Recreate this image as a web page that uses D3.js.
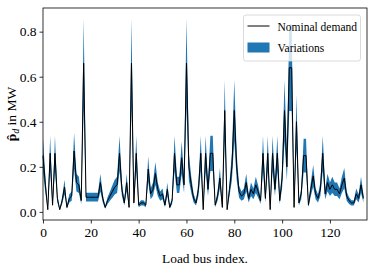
<!DOCTYPE html>
<html>
<head>
<meta charset="utf-8">
<script src="https://cdn.jsdelivr.net/npm/d3@7"></script>
<style>
  body { margin: 0; background: #fff; }
  text { font-family: "Liberation Serif", "DejaVu Serif", serif; fill: #000; }
</style>
</head>
<body>
<div id="chart"></div>
<script>

// nominal demand per load bus (MW)
var nominal = [
  0.25, 0.12, 0.01, 0.26, 0.03, 0.26, 0.06, 0.01, 0.05, 0.11,
  0.02, 0.06, 0.07, 0.27, 0.13, 0.12, 0.05, 0.66, 0.065, 0.065,
  0.065, 0.065, 0.065, 0.065, 0.13, 0.06, 0.02, 0.05, 0.07, 0.09,
  0.11, 0.12, 0.26, 0.10, 0.04, 0.13, 0.02, 0.66, 0.04, 0.26,
  0.03, 0.04, 0.04, 0.03, 0.19, 0.08, 0.10, 0.17, 0.10, 0.07,
  0.08, 0.03, 0.10, 0.02, 0.05, 0.26, 0.12, 0.12, 0.24, 0.12,
  0.66, 0.20, 0.12, 0.06, 0.04, 0.10, 0.26, 0.01, 0.26, 0.10,
  0.26, 0.26, 0.03, 0.07, 0.15, 0.02, 0.45, 0.01, 0.10, 0.20,
  0.45, 0.20, 0.09, 0.07, 0.08, 0.13, 0.06, 0.10, 0.08, 0.12,
  0.09, 0.05, 0.26, 0.06, 0.26, 0.01, 0.26, 0.10, 0.26, 0.05,
  0.15, 0.45, 0.20, 0.64, 0.64, 0.02, 0.40, 0.04, 0.08, 0.25,
  0.25, 0.03, 0.10, 0.16, 0.08, 0.06, 0.10, 0.26, 0.08, 0.13,
  0.10, 0.12, 0.10, 0.10, 0.08, 0.12, 0.15, 0.07, 0.05, 0.04,
  0.04, 0.08, 0.06, 0.12, 0.06
];

// lower edge of the variation band
var lower = [
  0.175, 0.084, 0.007, 0.182, 0.021, 0.182, 0.042, 0.007, 0.035, 0.077,
  0.014, 0.042, 0.049, 0.189, 0.091, 0.084, 0.035, 0.462, 0.046, 0.046,
  0.046, 0.046, 0.046, 0.046, 0.091, 0.042, 0.014, 0.035, 0.049, 0.063,
  0.077, 0.084, 0.182, 0.070, 0.028, 0.091, 0.014, 0.462, 0.028, 0.182,
  0.021, 0.028, 0.028, 0.021, 0.133, 0.056, 0.070, 0.119, 0.070, 0.049,
  0.056, 0.021, 0.070, 0.014, 0.035, 0.182, 0.084, 0.084, 0.168, 0.084,
  0.462, 0.140, 0.084, 0.042, 0.028, 0.070, 0.182, 0.007, 0.182, 0.070,
  0.182, 0.182, 0.021, 0.049, 0.105, 0.014, 0.315, 0.007, 0.070, 0.140,
  0.315, 0.140, 0.063, 0.049, 0.056, 0.091, 0.042, 0.070, 0.056, 0.084,
  0.063, 0.035, 0.182, 0.042, 0.182, 0.007, 0.182, 0.070, 0.182, 0.035,
  0.105, 0.315, 0.140, 0.448, 0.448, 0.014, 0.280, 0.028, 0.056, 0.175,
  0.175, 0.021, 0.070, 0.112, 0.056, 0.042, 0.070, 0.182, 0.056, 0.091,
  0.070, 0.084, 0.070, 0.070, 0.056, 0.084, 0.105, 0.049, 0.035, 0.028,
  0.028, 0.056, 0.042, 0.084, 0.042
];

// upper edge of the variation band
var upper = [
  0.325, 0.156, 0.013, 0.338, 0.039, 0.338, 0.078, 0.013, 0.065, 0.143,
  0.026, 0.078, 0.091, 0.351, 0.169, 0.156, 0.065, 0.858, 0.085, 0.085,
  0.085, 0.085, 0.085, 0.085, 0.169, 0.078, 0.026, 0.065, 0.091, 0.117,
  0.143, 0.156, 0.338, 0.130, 0.052, 0.169, 0.026, 0.858, 0.052, 0.338,
  0.039, 0.052, 0.052, 0.039, 0.247, 0.104, 0.130, 0.221, 0.130, 0.091,
  0.104, 0.039, 0.130, 0.026, 0.065, 0.338, 0.156, 0.156, 0.312, 0.156,
  0.858, 0.260, 0.156, 0.078, 0.052, 0.130, 0.338, 0.013, 0.338, 0.130,
  0.338, 0.338, 0.039, 0.091, 0.195, 0.026, 0.585, 0.013, 0.130, 0.260,
  0.585, 0.260, 0.117, 0.091, 0.104, 0.169, 0.078, 0.130, 0.104, 0.156,
  0.117, 0.065, 0.338, 0.078, 0.338, 0.013, 0.338, 0.130, 0.338, 0.065,
  0.195, 0.585, 0.260, 0.832, 0.832, 0.026, 0.520, 0.052, 0.104, 0.325,
  0.325, 0.039, 0.130, 0.208, 0.104, 0.078, 0.130, 0.338, 0.104, 0.169,
  0.130, 0.156, 0.130, 0.130, 0.104, 0.156, 0.195, 0.091, 0.065, 0.052,
  0.052, 0.104, 0.078, 0.156, 0.078
];

var xTicks = [0, 20, 40, 60, 80, 100, 120];
var yTicks = [0.0, 0.2, 0.4, 0.6, 0.8];
var legendLabels = ['Nominal demand', 'Variations'];

var W = 373, H = 273;
var margin = { top: 8, right: 6, bottom: 53, left: 43 }
  , width = W - margin.left - margin.right
  , height = H - margin.top - margin.bottom;

var svg = d3.select('#chart').append('svg')
  .attr('width', W)
  .attr('height', H);

var g = svg.append('g')
  .attr('transform', `translate(${margin.left},${margin.top})`);

var x = d3.scaleLinear().domain([0, 135.5]).range([0, width]);
var y = d3.scaleLinear().domain([-0.036, 0.905]).range([height, 0]);

// band
var area = d3.area()
  .x((d, i) => x(i))
  .y0((d, i) => y(lower[i]))
  .y1((d, i) => y(upper[i]));

g.append('path')
  .datum(nominal)
  .attr('fill', '#1f77b4')
  .attr('d', area);

// nominal line
var line = d3.line()
  .x((d, i) => x(i))
  .y(d => y(d));

g.append('path')
  .datum(nominal)
  .attr('fill', 'none')
  .attr('stroke', '#000')
  .attr('stroke-width', 1)
  .attr('stroke-linejoin', 'round')
  .attr('d', line);

// axes
var xAxis = g.append('g')
  .attr('transform', `translate(0,${height})`)
  .call(d3.axisBottom(x).tickValues(xTicks).tickSize(3.5).tickPadding(4).tickFormat(d3.format('d')));

var yAxis = g.append('g')
  .call(d3.axisLeft(y).tickValues(yTicks).tickSize(3.5).tickPadding(3).tickFormat(d3.format('.1f')));

[xAxis, yAxis].forEach(a => {
  a.select('.domain').remove();
  a.selectAll('line').attr('stroke', '#000').attr('stroke-width', 0.8);
  a.selectAll('text').style('font-size', '13.5px').attr('fill', '#000');
});

// frame
g.append('rect')
  .attr('width', width)
  .attr('height', height)
  .attr('fill', 'none')
  .attr('stroke', '#000')
  .attr('stroke-width', 0.8);

// axis labels
svg.append('text')
  .attr('x', margin.left + width / 2)
  .attr('y', 263)
  .attr('text-anchor', 'middle')
  .style('font-size', '13.4px')
  .text('Load bus index.');

var ylab = svg.append('text')
  .attr('transform', `translate(16,${margin.top + height / 2}) rotate(-90)`)
  .attr('text-anchor', 'middle')
  .style('font-size', '13.5px');
ylab.append('tspan').attr('font-weight', 'bold').text('p\u0302');
ylab.append('tspan').attr('font-style', 'italic').attr('font-size', '9.5px').attr('dy', 2.5).text('d');
ylab.append('tspan').attr('dy', -2.5).text(' in MW');

// legend
var legend = svg.append('g')
  .attr('transform', 'translate(243.5,15)');

legend.append('rect')
  .attr('width', 117)
  .attr('height', 46)
  .attr('rx', 2.5)
  .attr('fill', '#fff')
  .attr('fill-opacity', 0.8)
  .attr('stroke', '#d0d0d0')
  .attr('stroke-width', 0.8);

legend.append('line')
  .attr('x1', 4).attr('x2', 26)
  .attr('y1', 11).attr('y2', 11)
  .attr('stroke', '#000')
  .attr('stroke-width', 1);

legend.append('rect')
  .attr('x', 4).attr('y', 27.5)
  .attr('width', 22).attr('height', 10)
  .attr('fill', '#1f77b4');

legend.selectAll('text.lbl')
  .data(legendLabels)
  .enter()
  .append('text')
  .attr('class', 'lbl')
  .attr('x', 34)
  .attr('y', (d, i) => 15.5 + i * 21.5)
  .style('font-size', '11.5px')
  .text(d => d);

</script>
</body>
</html>
